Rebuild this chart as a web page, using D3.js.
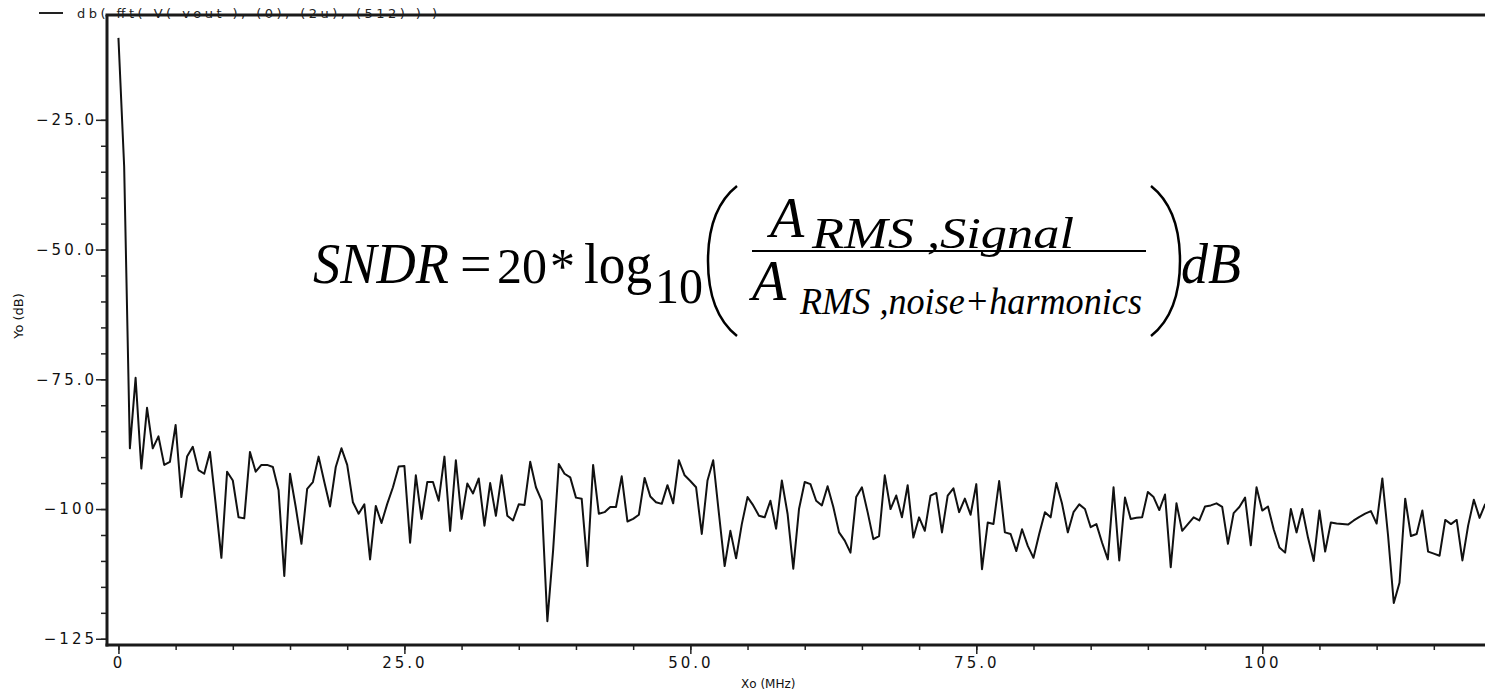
<!DOCTYPE html>
<html>
<head>
<meta charset="utf-8">
<script src="https://cdn.jsdelivr.net/npm/d3@7"></script>
<style>
  body { margin: 0; background: #ffffff; }
  .axisTicks text { font-family: "DejaVu Sans", sans-serif; font-size: 15px; letter-spacing: 3px; fill: #111; }
  .axisTicks line { stroke: #222; stroke-width: 1.5; }
  .axisTitle { font-family: "DejaVu Sans", sans-serif; font-size: 12px; fill: #111; }
  .eq { font-family: "Liberation Serif", "Times New Roman", serif; fill: #000; }
</style>
</head>
<body>
<script>

// fft of vout: 512 samples over 2 us, so one bin every 0.5 MHz
var binWidthMHz = 0.5;

// magnitude per bin in dB, one line per 5 MHz
var magnitudeDb = [
  -9.2, -34, -88.3, -74.7, -92.2, -80.5, -88.3, -86.0, -91.5, -90.9,
  -83.8, -97.7, -89.9, -88.0, -92.5, -93.2, -89.0, -99.0, -109.4, -92.8,
  -94.5, -101.6, -101.8, -89.0, -92.8, -91.5, -91.5, -91.9, -96.4, -112.9,
  -93.2, -99.6, -106.7, -96.1, -94.8, -89.9, -94.8, -99.5, -91.9, -88.3,
  -91.5, -98.7, -100.9, -99.1, -109.7, -99.4, -102.7, -99.0, -95.8, -91.8,
  -91.7, -106.5, -93.5, -101.9, -94.8, -94.8, -98.4, -89.9, -104.2, -90.6,
  -101.9, -95.1, -97.0, -94.1, -103.2, -95.0, -101.3, -93.5, -101.3, -102.2,
  -99.1, -99.2, -90.9, -95.8, -98.4, -121.6, -108.0, -91.3, -93.2, -93.9,
  -97.8, -98.0, -111.0, -91.5, -100.9, -100.6, -99.6, -99.6, -93.7, -102.4,
  -101.9, -101.1, -94.0, -97.6, -98.7, -99.0, -95.4, -98.9, -90.6, -93.5,
  -94.6, -95.8, -104.8, -94.5, -90.6, -100.9, -111.0, -104.2, -109.5, -102.9,
  -97.7, -99.3, -101.3, -101.6, -98.4, -103.8, -94.5, -100.9, -111.5, -100.0,
  -94.8, -95.2, -98.4, -99.3, -95.6, -99.6, -104.5, -106.1, -108.4, -97.7,
  -95.8, -100.6, -105.8, -105.2, -93.5, -100.0, -97.4, -101.6, -95.4, -105.5,
  -101.6, -104.2, -97.4, -96.9, -104.5, -97.4, -96.0, -100.6, -98.0, -101.1,
  -95.2, -111.6, -102.6, -102.9, -94.6, -104.5, -104.8, -108.1, -103.9, -107.1,
  -109.4, -104.8, -100.6, -101.6, -95.0, -99.0, -104.5, -100.6, -99.1, -100.0,
  -103.5, -102.9, -106.5, -109.7, -95.8, -109.9, -97.8, -101.9, -101.7, -101.6,
  -96.7, -97.7, -100.2, -97.2, -111.2, -98.9, -104.2, -102.9, -101.6, -102.2,
  -99.5, -99.3, -98.9, -99.6, -106.7, -100.8, -99.6, -97.8, -107.0, -95.8,
  -100.3, -99.5, -103.9, -107.4, -108.4, -100.0, -104.5, -100.0, -105.5, -110.0,
  -100.3, -108.2, -102.6, -102.8, -102.9, -103.0, -102.2, -101.5, -100.9, -100.4,
  -102.8, -94.1, -105.1, -118.1, -114.2, -98.0, -105.2, -104.8, -100.3, -108.2,
  -108.6, -109.0, -102.1, -102.9, -102.1, -109.9, -103.2, -98.2, -101.7, -99.0
];

// axis ticks and labels
var xTickValues = [0, 25, 50, 75, 100];
var xTickLabels = ["0", "25.0", "50.0", "75.0", "100"];
var xMinorTicks = [0, 5, 10, 15, 20, 25, 30, 35, 40, 45, 50, 55, 60, 65, 70, 75, 80, 85, 90, 95, 100, 105, 110, 115];
var yTickValues = [-125, -100, -75, -50, -25];
var yTickLabels = ["\u2212125", "\u2212100", "\u221275.0", "\u221250.0", "\u221225.0"];
var yMinorTicks = [-125, -120, -115, -110, -105, -100, -95, -90, -85, -80, -75, -70, -65, -60, -55, -50, -45, -40, -35, -30, -25];

var legendLabel = "db( fft( V( vout ), (0), (2u), (512) ) )";
var xTitle = "Xo (MHz)";
var yTitle = "Yo (dB)";

window.onload = function() {

  var width = 1485;
  var height = 691;
  var plot = {left: 107, right: 1491, top: 15, bottom: 645};

  var svg = d3.select("body")
              .append("svg")
              .attr("width", width)
              .attr("height", height);

  // scales
  var xScale = d3.scaleLinear()
                 .domain([-1, 120])
                 .range([plot.left, plot.right]);

  var yScale = d3.scaleLinear()
                 .domain([-126.2, -4.8])
                 .range([plot.bottom, plot.top]);

  drawLegend(svg);
  drawAxes(svg, xScale, yScale, plot, width);
  drawSpectrum(svg, xScale, yScale, plot, width);
  drawFormula(svg);
};

function drawLegend(svg) {
  svg.append("line")
     .attr("x1", 39).attr("x2", 63)
     .attr("y1", 13).attr("y2", 13)
     .attr("stroke", "#222")
     .attr("stroke-width", 2);

  svg.append("text")
     .attr("x", 77)
     .attr("y", 18)
     .attr("textLength", 360)
     .attr("lengthAdjust", "spacing")
     .style("font-family", "DejaVu Sans, sans-serif")
     .style("font-size", "13px")
     .style("fill", "#222")
     .text(legendLabel);
}

function drawAxes(svg, xScale, yScale, plot, width) {

  // minor ticks first, majors on top
  svg.append("g")
     .attr("class", "axisTicks")
     .attr("transform", "translate(" + plot.left + ",0)")
     .call(d3.axisLeft(yScale).tickValues(yMinorTicks).tickSize(6).tickFormat(""))
     .select(".domain").remove();

  svg.append("g")
     .attr("class", "axisTicks")
     .attr("transform", "translate(" + plot.left + ",0)")
     .call(d3.axisLeft(yScale)
             .tickValues(yTickValues)
             .tickSize(11)
             .tickPadding(-1)
             .tickFormat(function(d, i) { return yTickLabels[i]; }))
     .select(".domain").remove();

  svg.append("g")
     .attr("class", "axisTicks")
     .attr("transform", "translate(0," + plot.bottom + ")")
     .call(d3.axisBottom(xScale).tickValues(xMinorTicks).tickSize(5).tickFormat(""))
     .select(".domain").remove();

  svg.append("g")
     .attr("class", "axisTicks")
     .attr("transform", "translate(0," + plot.bottom + ")")
     .call(d3.axisBottom(xScale)
             .tickValues(xTickValues)
             .tickSize(9)
             .tickPadding(3)
             .tickFormat(function(d, i) { return xTickLabels[i]; }))
     .select(".domain").remove();

  // heavy frame: left, bottom and top edges
  var frame = svg.append("g")
                 .attr("stroke", "#1a1a1a")
                 .attr("stroke-width", 3)
                 .attr("fill", "none");

  frame.append("line")
       .attr("x1", plot.left).attr("x2", plot.left)
       .attr("y1", plot.top).attr("y2", plot.bottom + 1.5);
  frame.append("line")
       .attr("x1", plot.left - 1.5).attr("x2", width)
       .attr("y1", plot.bottom).attr("y2", plot.bottom);
  frame.append("line")
       .attr("x1", plot.left - 1.5).attr("x2", width)
       .attr("y1", plot.top).attr("y2", plot.top);

  // axis titles
  svg.append("text")
     .attr("class", "axisTitle")
     .attr("x", 741)
     .attr("y", 688)
     .text(xTitle);

  svg.append("text")
     .attr("class", "axisTitle")
     .attr("transform", "translate(23,316) rotate(-90)")
     .attr("text-anchor", "middle")
     .style("font-size", "13px")
     .text(yTitle);
}

function drawSpectrum(svg, xScale, yScale, plot, width) {

  svg.append("clipPath")
     .attr("id", "plotClip")
     .append("rect")
     .attr("x", plot.left + 1)
     .attr("y", plot.top + 1)
     .attr("width", width - plot.left)
     .attr("height", plot.bottom - plot.top - 2);

  var line = d3.line()
               .x(function(d, i) { return xScale(i * binWidthMHz); })
               .y(function(d) { return yScale(d); });

  svg.append("path")
     .datum(magnitudeDb)
     .attr("clip-path", "url(#plotClip)")
     .attr("fill", "none")
     .attr("stroke", "#111")
     .attr("stroke-width", 2)
     .attr("stroke-linejoin", "round")
     .attr("d", line);
}

function drawFormula(svg) {

  // SNDR = 20 * log10( A_RMS,Signal / A_RMS,noise+harmonics ) dB
  var eq = svg.append("g").attr("class", "eq");

  function piece(txt, x, y, size, italic, len, adjust) {
    var t = eq.append("text")
              .attr("x", x)
              .attr("y", y)
              .style("font-size", size + "px")
              .style("font-style", italic ? "italic" : "normal")
              .text(txt);
    if (len) {
      t.attr("textLength", len).attr("lengthAdjust", adjust || "spacingAndGlyphs");
    }
    return t;
  }

  piece("SNDR", 313, 283, 56, true, 136);
  piece("=", 460, 283, 56, false);
  piece("20", 497, 283, 50, false);
  piece("*", 550, 283, 50, false);
  piece("log", 584, 283, 56, false, 68);
  piece("10", 655, 303, 50, false, 48);

  // numerator and denominator
  piece("A", 770, 237, 56, true);
  piece("RMS ,Signal", 812, 248, 44, true, 262);
  eq.append("line")
    .attr("x1", 752).attr("x2", 1146)
    .attr("y1", 251).attr("y2", 251)
    .attr("stroke", "#000")
    .attr("stroke-width", 2);
  piece("A", 752, 300, 56, true);
  piece("RMS ,noise+harmonics", 800, 314, 38, true, 342);

  // tall brackets round the fraction
  eq.append("path")
    .attr("d", "M737,186 C713,205 708,235 708,261 C708,287 713,317 737,336")
    .attr("fill", "none")
    .attr("stroke", "#000")
    .attr("stroke-width", 2.5);
  eq.append("path")
    .attr("d", "M1151,186 C1175,205 1180,235 1180,261 C1180,287 1175,317 1151,336")
    .attr("fill", "none")
    .attr("stroke", "#000")
    .attr("stroke-width", 2.5);

  piece("dB", 1181, 283, 56, true, 60);
}

</script>
</body>
</html>
